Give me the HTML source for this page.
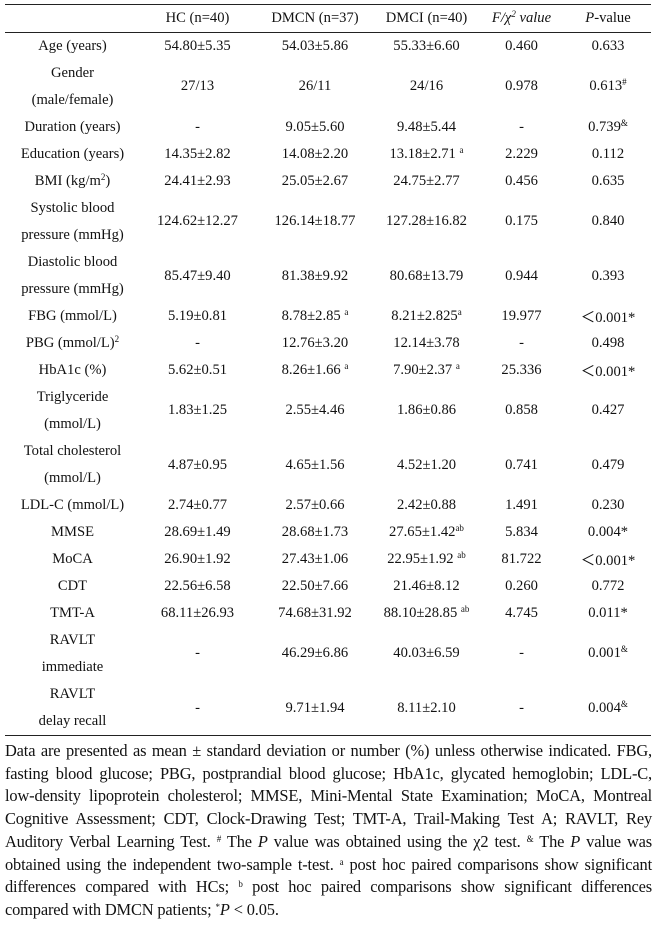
<!DOCTYPE html>
<html><head><meta charset="utf-8">
<style>
html,body{margin:0;padding:0;background:#fff;}
body{width:661px;height:933px;position:relative;overflow:hidden;font-family:"Liberation Serif",serif;color:#111;}
table{position:absolute;left:5px;top:4px;width:646px;border-collapse:collapse;table-layout:fixed;font-size:14.6px;}
td,th{text-align:center;padding:0;font-weight:normal;white-space:nowrap;}
thead th{height:27px;border-top:1.3px solid #222;border-bottom:1.3px solid #222;}
tr.s td{height:26.8px;}
tr.d td{height:54.4px;line-height:27px;}
tbody tr:last-child td{border-bottom:1.3px solid #222;}
sup{font-size:9px;vertical-align:5px;line-height:0;}
.foot{position:absolute;left:5px;top:740px;width:647px;font-size:16.4px;letter-spacing:-0.15px;line-height:22.7px;}
.foot div{text-align:justify;text-align-last:justify;white-space:nowrap;}
.foot div.last{text-align-last:left;}
</style></head><body>
<table>
<colgroup><col style="width:135px"><col style="width:115px"><col style="width:120px"><col style="width:103px"><col style="width:87px"><col style="width:86px"></colgroup>
<thead><tr>
<th></th>
<th>HC (n=40)</th>
<th>DMCN (n=37)</th>
<th>DMCI (n=40)</th>
<th><i>F/χ<sup>2</sup> value</i></th>
<th><i>P</i>-value</th>
</tr></thead>
<tbody>
<tr class="s"><td>Age (years)</td><td>54.80±5.35</td><td>54.03±5.86</td><td>55.33±6.60</td><td>0.460</td><td>0.633</td></tr>
<tr class="d"><td>Gender<br>(male/female)</td><td>27/13</td><td>26/11</td><td>24/16</td><td>0.978</td><td>0.613<sup>#</sup></td></tr>
<tr class="s"><td>Duration (years)</td><td>-</td><td>9.05±5.60</td><td>9.48±5.44</td><td>-</td><td>0.739<sup>&amp;</sup></td></tr>
<tr class="s"><td>Education (years)</td><td>14.35±2.82</td><td>14.08±2.20</td><td>13.18±2.71 <sup>a</sup></td><td>2.229</td><td>0.112</td></tr>
<tr class="s"><td>BMI (kg/m<sup>2</sup>)</td><td>24.41±2.93</td><td>25.05±2.67</td><td>24.75±2.77</td><td>0.456</td><td>0.635</td></tr>
<tr class="d"><td>Systolic blood<br>pressure (mmHg)</td><td>124.62±12.27</td><td>126.14±18.77</td><td>127.28±16.82</td><td>0.175</td><td>0.840</td></tr>
<tr class="d"><td>Diastolic blood<br>pressure (mmHg)</td><td>85.47±9.40</td><td>81.38±9.92</td><td>80.68±13.79</td><td>0.944</td><td>0.393</td></tr>
<tr class="s"><td>FBG (mmol/L)</td><td>5.19±0.81</td><td>8.78±2.85 <sup>a</sup></td><td>8.21±2.825<sup>a</sup></td><td>19.977</td><td>＜0.001*</td></tr>
<tr class="s"><td>PBG (mmol/L)<sup>2</sup></td><td>-</td><td>12.76±3.20</td><td>12.14±3.78</td><td>-</td><td>0.498</td></tr>
<tr class="s"><td>HbA1c (%)</td><td>5.62±0.51</td><td>8.26±1.66 <sup>a</sup></td><td>7.90±2.37 <sup>a</sup></td><td>25.336</td><td>＜0.001*</td></tr>
<tr class="d"><td>Triglyceride<br>(mmol/L)</td><td>1.83±1.25</td><td>2.55±4.46</td><td>1.86±0.86</td><td>0.858</td><td>0.427</td></tr>
<tr class="d"><td>Total cholesterol<br>(mmol/L)</td><td>4.87±0.95</td><td>4.65±1.56</td><td>4.52±1.20</td><td>0.741</td><td>0.479</td></tr>
<tr class="s"><td>LDL-C (mmol/L)</td><td>2.74±0.77</td><td>2.57±0.66</td><td>2.42±0.88</td><td>1.491</td><td>0.230</td></tr>
<tr class="s"><td>MMSE</td><td>28.69±1.49</td><td>28.68±1.73</td><td>27.65±1.42<sup>ab</sup></td><td>5.834</td><td>0.004*</td></tr>
<tr class="s"><td>MoCA</td><td>26.90±1.92</td><td>27.43±1.06</td><td>22.95±1.92 <sup>ab</sup></td><td>81.722</td><td>＜0.001*</td></tr>
<tr class="s"><td>CDT</td><td>22.56±6.58</td><td>22.50±7.66</td><td>21.46±8.12</td><td>0.260</td><td>0.772</td></tr>
<tr class="s"><td>TMT-A</td><td>68.11±26.93</td><td>74.68±31.92</td><td>88.10±28.85 <sup>ab</sup></td><td>4.745</td><td>0.011*</td></tr>
<tr class="d"><td>RAVLT<br>immediate</td><td>-</td><td>46.29±6.86</td><td>40.03±6.59</td><td>-</td><td>0.001<sup>&amp;</sup></td></tr>
<tr class="d"><td>RAVLT<br>delay recall</td><td>-</td><td>9.71±1.94</td><td>8.11±2.10</td><td>-</td><td>0.004<sup>&amp;</sup></td></tr>
</tbody></table>
<div class="foot">
<div>Data are presented as mean ± standard deviation or number (%) unless otherwise indicated. FBG,</div>
<div>fasting blood glucose; PBG, postprandial blood glucose; HbA1c, glycated hemoglobin; LDL-C,</div>
<div>low-density lipoprotein cholesterol; MMSE, Mini-Mental State Examination; MoCA, Montreal</div>
<div>Cognitive Assessment; CDT, Clock-Drawing Test; TMT-A, Trail-Making Test A; RAVLT, Rey</div>
<div>Auditory Verbal Learning Test. <sup>#</sup> The <i>P</i> value was obtained using the χ2 test. <sup>&amp;</sup> The <i>P</i> value was</div>
<div>obtained using the independent two-sample t-test. <sup>a</sup> post hoc paired comparisons show significant</div>
<div>differences compared with HCs; <sup>b</sup> post hoc paired comparisons show significant differences</div>
<div class="last">compared with DMCN patients; <sup>*</sup><i>P</i> &lt; 0.05.</div>
</div>
</body></html>
